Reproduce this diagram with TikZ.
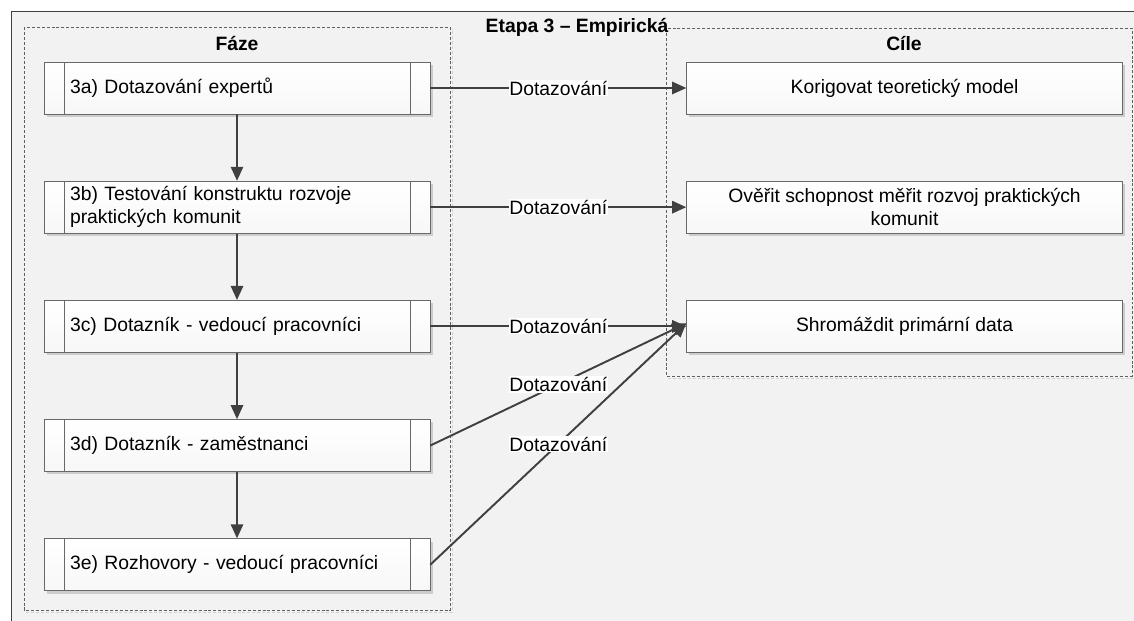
\documentclass[tikz,border=0pt]{standalone}
\usepackage{fontspec}
\setmainfont{Liberation Sans}
\usetikzlibrary{arrows.meta,positioning,shadows}
\definecolor{linegray}{RGB}{64,64,64}
\definecolor{boxline}{RGB}{104,104,104}
\definecolor{bggray}{RGB}{242,242,242}

\begin{document}
\begin{tikzpicture}[
  x=0.02cm, y=-0.02cm,
  font=\fontsize{11}{13}\selectfont,
  phase/.style={rectangle,draw=boxline,top color=white,bottom color=gray!6,
    minimum height=1.04cm,inner xsep=0.52cm,inner ysep=2pt,text width=6.68cm,align=left,
    drop shadow={shadow xshift=1.6pt,shadow yshift=-1.6pt,fill=gray!40,opacity=1},
    path picture={
      \draw[boxline] ([xshift=0.4cm]path picture bounding box.north west) -- ([xshift=0.4cm]path picture bounding box.south west);
      \draw[boxline] ([xshift=-0.4cm]path picture bounding box.north east) -- ([xshift=-0.4cm]path picture bounding box.south east);
    }},
  goal/.style={rectangle,draw=boxline,top color=white,bottom color=gray!6,
    minimum height=1.04cm,minimum width=8.72cm,inner ysep=2pt,align=center,
    drop shadow={shadow xshift=1.6pt,shadow yshift=-1.6pt,fill=gray!40,opacity=1}},
  cont/.style={draw=gray!75!black,dashed,dash pattern=on 1.7pt off 1.1pt,thin},
  title/.style={font=\fontsize{11}{13}\selectfont\bfseries},
  link/.style={draw=linegray,line width=1.1pt,-{Triangle[length=8pt,width=7pt]}},
  lbl/.style={fill=white,inner sep=0.5pt}
]
\useasboundingbox (0,0) rectangle (1134,621);
\fill[bggray] (11,11) rectangle (1134,621);
\draw[linegray,thin] (1134,11) -- (11,11) -- (11,621);
% containers
\draw[gray!35,dashed,dash pattern=on 1.7pt off 1.1pt,thin] (26,612) -- (452,612) -- (452,29);
\draw[gray!35,dashed,dash pattern=on 1.7pt off 1.1pt,thin] (668,378) -- (1134,378);
\draw[cont] (24,27) rectangle (450,610);
\draw[cont] (666,28) rectangle (1132,376);
\node[title,anchor=base] (etapa) at (577,33) {Etapa 3 – Empirická};
\node[title] (faze) at (237,44) {Fáze};
\node[title] (cile) at (904,44) {Cíle};
% phases
\node[phase] (a3) at (237,88) {3a) Dotazování expertů};
\node[phase,below=1.33cm of a3] (b3) {3b) Testování konstruktu rozvoje\\praktických komunit};
\node[phase,below=1.33cm of b3] (c3) {3c) Dotazník - vedoucí pracovníci};
\node[phase,below=1.33cm of c3] (d3) {3d) Dotazník - zaměstnanci};
\node[phase,below=1.33cm of d3] (e3) {3e) Rozhovory - vedoucí pracovníci};
% goals
\node[goal,right=5.12cm of a3] (g1) {Korigovat teoretický model};
\node[goal,right=5.12cm of b3] (g2) {Ověřit schopnost měřit rozvoj praktických\\komunit};
\node[goal,right=5.12cm of c3] (g3) {Shromáždit primární data};
% flow
\draw[link] (a3) -- (b3);
\draw[link] (b3) -- (c3);
\draw[link] (c3) -- (d3);
\draw[link] (d3) -- (e3);
\draw[link] (a3) -- node[lbl]{Dotazování} (g1);
\draw[link] (b3) -- node[lbl]{Dotazování} (g2);
\draw[link] (c3) -- node[lbl]{Dotazování} (g3);
\draw[link] (d3.east) -- node[lbl]{Dotazování} ([yshift=0.06cm]g3.west);
\draw[link] (e3.east) -- node[lbl]{Dotazování} ([yshift=0.06cm]g3.west);
\end{tikzpicture}
\end{document}
